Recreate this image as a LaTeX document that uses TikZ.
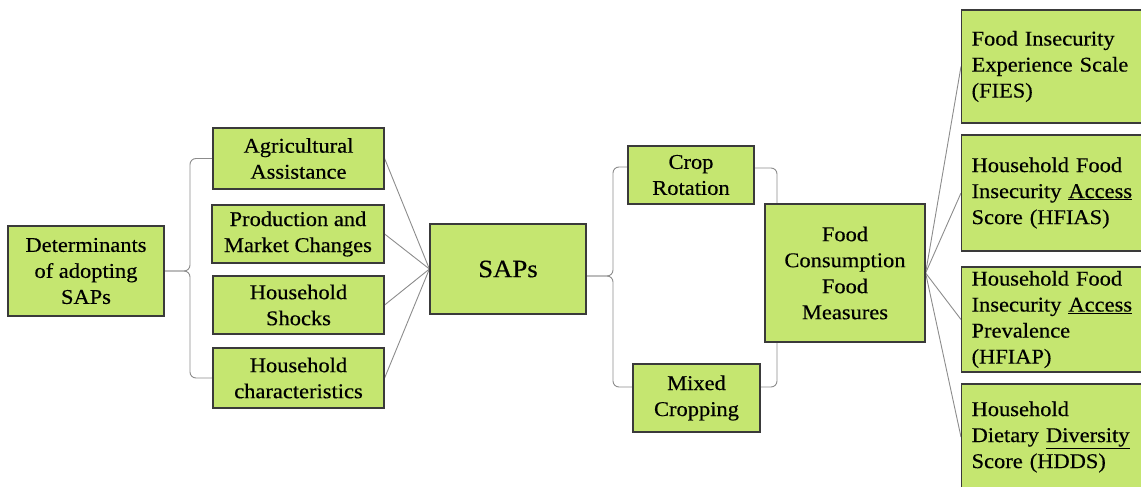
\documentclass[tikz,border=0pt]{standalone}
\usepackage{fontspec}
\setmainfont{Liberation Serif}[FakeStretch=1.07,FakeBold=0.4]
\usetikzlibrary{backgrounds}
\definecolor{boxgreen}{HTML}{C5E670}
\definecolor{boxline}{HTML}{3A3A3A}
\definecolor{linkgray}{HTML}{8C8C8C}

\begin{document}
\begin{tikzpicture}[x=1pt,y=-1pt,
		box/.style={draw=boxline,line width=1.2pt,fill=boxgreen,inner sep=0pt,align=center,font=\fontsize{21}{26}\selectfont},
		measure/.style={box,align=left,text width=170pt,inner xsep=10pt,anchor=west},
		link/.style={draw=linkgray,line width=0.9pt}]
		\useasboundingbox (0,0) rectangle (1141,487);
		\clip (0,0) rectangle (1141,487);
		% determinants
		\node[box,minimum width=156pt,minimum height=90pt] (det) at (86,271) {Determinants\\of adopting\\SAPs};
		\node[box,minimum width=171pt,minimum height=61pt] (agri) at (298.5,158.5) {Agricultural\\Assistance};
		\node[box,minimum width=172pt,minimum height=58pt] (prod) at (298,234) {Production and\\Market Changes};
		\node[box,minimum width=171pt,minimum height=58pt] (shock) at (298.5,305) {Household\\Shocks};
		\node[box,minimum width=171pt,minimum height=60pt] (hhchar) at (298.5,378) {Household\\characteristics};
		% practices
		\node[box,minimum width=156pt,minimum height=90pt,font=\fontsize{25}{28}\selectfont] (saps) at (508,269) {SAPs};
		\node[box,minimum width=126pt,minimum height=58pt] (crop) at (691,175) {Crop\\Rotation};
		\node[box,minimum width=127pt,minimum height=68pt] (mixed) at (696.5,398) {Mixed\\Cropping};
		\node[box,minimum width=160pt,minimum height=138pt] (fcs) at (845,273) {Food\\Consumption\\Food\\Measures};
		% measures
		\node[measure,minimum height=113pt] (fies) at (961,66.5) {Food Insecurity\\Experience Scale\\(FIES)};
		\node[measure,minimum height=116pt] (hfias) at (961,193) {Household Food\\Insecurity \underline{Access}\\Score (HFIAS)};
		\node[measure,minimum height=105pt] (hfiap) at (961,319.5) {Household Food\\Insecurity \underline{Access}\\Prevalence\\(HFIAP)};
		\node[measure,minimum height=106pt] (hdds) at (961,437) {Household\\Dietary \underline{Diversity}\\Score (HDDS)};
		
		\coordinate (lspine) at (190,271);
		\coordinate (mspine) at (613,276);
		\coordinate (rspine) at (777,273);
		\coordinate (sapsout) at ([yshift=-7pt]saps.east);
		\coordinate (cropin) at ([yshift=8pt]crop.west);
		\coordinate (cropout) at ([yshift=7pt]crop.east);
		\coordinate (mixedin) at ([yshift=11pt]mixed.west);
		\coordinate (mixedout) at ([yshift=11pt]mixed.east);
		
		\begin{pgfonlayer}{background}
			\draw[link,rounded corners=6pt] (det.east) -| (lspine |- agri.west) -- (agri.west);
			\draw[link,rounded corners=6pt] (det.east) -| (lspine |- hhchar.west) -- (hhchar.west);
			\draw[link,rounded corners=6pt] (sapsout) -| (mspine |- cropin) -- (cropin);
			\draw[link,rounded corners=6pt] (sapsout) -| (mspine |- mixedin) -- (mixedin);
			\draw[link,rounded corners=6pt] (cropout) -| (rspine) |- (mixedout);
			\foreach \n in {agri,prod,shock,hhchar}
			\draw[link] (\n.east) -- (saps.west);
			\foreach \n in {fies,hfias,hfiap,hdds}
			\draw[link] (fcs.east) -- (\n.west);
		\end{pgfonlayer}
	\end{tikzpicture}
\end{document}
